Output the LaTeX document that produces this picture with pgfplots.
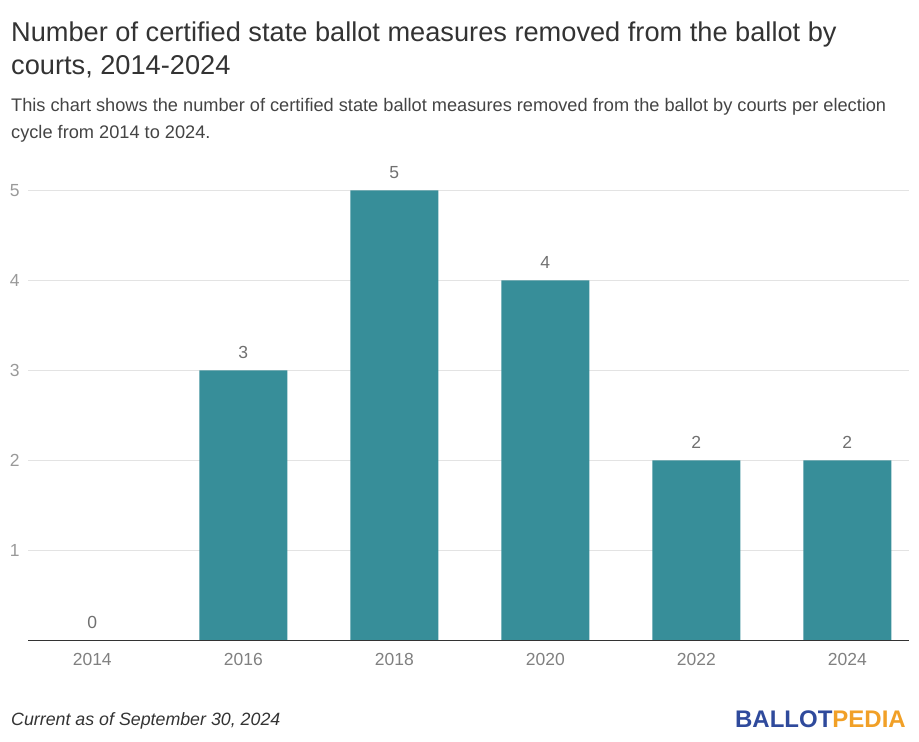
\documentclass[border=0pt]{standalone}
\usepackage{pgfplots}
\pgfplotsset{compat=1.18}
\usepackage{fontspec}
\setmainfont{Liberation Sans}
\definecolor{barc}{HTML}{378E99}
\definecolor{titc}{HTML}{333333}
\definecolor{subc}{HTML}{444444}
\definecolor{tickc}{HTML}{999999}
\definecolor{xtc}{HTML}{808080}
\definecolor{valc}{HTML}{707070}
\definecolor{gridc}{HTML}{E3E3E3}
\definecolor{bpblue}{HTML}{2F4A9C}
\definecolor{bporange}{HTML}{F1A027}
\begin{document}
\begin{tikzpicture}[x=1pt,y=1pt]
\useasboundingbox (0,0) rectangle (919,742);
\node[anchor=west,text=titc,font=\fontsize{27.2}{30}\selectfont,inner sep=0] at (11,708) {Number of certified state ballot measures removed from the ballot by};
\node[anchor=west,text=titc,font=\fontsize{27.2}{30}\selectfont,inner sep=0] at (11,675) {courts, 2014-2024};
\node[anchor=west,text=subc,font=\fontsize{18.2}{22}\selectfont,inner sep=0] at (11,635) {This chart shows the number of certified state ballot measures removed from the ballot by courts per election};
\node[anchor=west,text=subc,font=\fontsize{18.2}{22}\selectfont,inner sep=0] at (11,608) {cycle from 2014 to 2024.};
\node[anchor=west,text=titc,font=\itshape\fontsize{17.8}{20}\selectfont,inner sep=0] at (11,21) {Current as of September 30, 2024};
\node[anchor=east,font=\bfseries\fontsize{24}{28}\selectfont,inner sep=0] at (906,23) {\textcolor{bpblue}{BALLOT}\textcolor{bporange}{PEDIA}};
\begin{axis}[
  at={(18.7,113)}, anchor=south west,
  scale only axis, width=881pt, height=450pt,
  xmin=-0.424, xmax=5.41, ymin=0, ymax=5,
  enlargelimits=false,
  ybar, bar width=88pt, bar shift=0pt,
  axis line style={draw=none},
  xtick=data, xticklabels={2014,2016,2018,2020,2022,2024},
  ytick={1,2,3,4,5},
  ymajorgrids, grid style={gridc, line width=1pt},
  major tick length=0pt,
  tick label style={font=\fontsize{17.5}{20}\selectfont},
  xticklabel style={text=xtc, yshift=-9pt},
  yticklabel style={text=tickc, anchor=east, xshift=-5pt},
  /pgf/number format/assume math mode=true,
  nodes near coords,
  nodes near coords style={text=valc, font=\fontsize{17.5}{20}\selectfont, yshift=8pt},
  clip=false,
]
\addplot[fill=barc, draw=none] coordinates {(0,0) (1,3) (2,5) (3,4) (4,2) (5,2)};
\draw[black!80, line width=1pt] (axis cs:-0.424,0) -- (axis cs:5.41,0);
\end{axis}
\end{tikzpicture}
\end{document}
